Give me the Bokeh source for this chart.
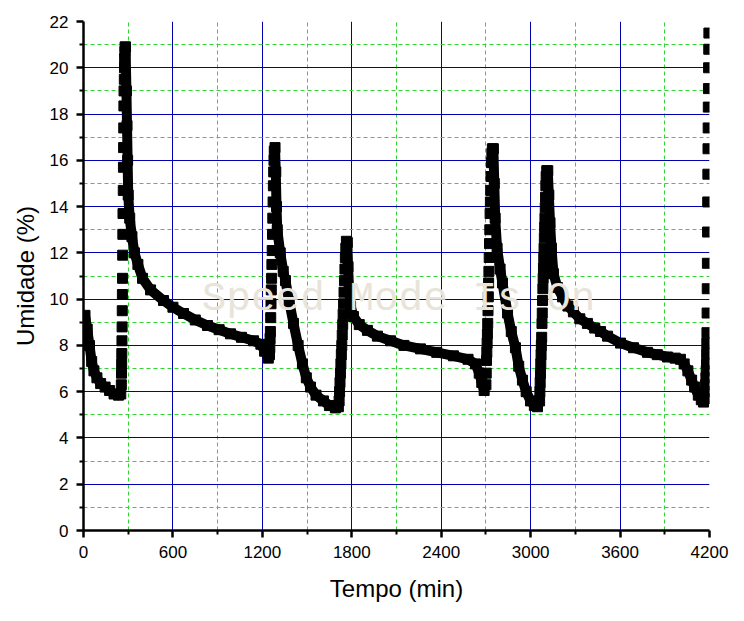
from bokeh.plotting import figure
from bokeh.models import Range1d, FixedTicker
from bokeh.core.properties import value
from bokeh.embed import file_html
from bokeh.resources import INLINE

# ---- axis ticks ----
x_major = [0, 600, 1200, 1800, 2400, 3000, 3600, 4200]
x_minor = [300, 900, 1500, 2100, 2700, 3300, 3900]
y_major = [0, 2, 4, 6, 8, 10, 12, 14, 16, 18, 20, 22]
y_minor = [1, 3, 5, 7, 9, 11, 13, 15, 17, 19, 21]

# ---- drying (falling) segments: time (min), humidity (%) ----
fall0_t = [10, 25, 40, 55, 70, 90, 115, 145, 175, 205, 235, 250]
fall0_h = [9.3, 8.7, 8.0, 7.3, 6.9, 6.6, 6.35, 6.2, 6.05, 5.9, 5.85, 5.9]

fall1_t = [282, 288, 292, 296, 300, 310, 325, 342, 365, 396, 450, 537, 600, 671, 750, 832, 910, 986, 1060, 1141, 1190, 1215, 1240]
fall1_h = [20.9, 19.0, 17.5, 16.0, 14.5, 13.5, 12.7, 12.0, 11.5, 10.9, 10.4, 9.94, 9.65, 9.38, 9.1, 8.86, 8.68, 8.5, 8.35, 8.2, 8.05, 7.75, 7.45]

fall2_t = [1285, 1290, 1295, 1300, 1320, 1340, 1355, 1380, 1409, 1440, 1469, 1495, 1523, 1560, 1610, 1650, 1690, 1710]
fall2_h = [16.55, 15.5, 14.0, 13.0, 12.0, 11.2, 10.8, 9.9, 8.95, 8.0, 7.2, 6.6, 6.2, 5.85, 5.6, 5.4, 5.3, 5.35]

fall3_t = [1770, 1775, 1782, 1792, 1811, 1850, 1905, 1972, 2060, 2150, 2261, 2370, 2482, 2580, 2630, 2655, 2672, 2688]
fall3_h = [12.45, 11.4, 10.4, 9.7, 9.25, 8.9, 8.65, 8.4, 8.2, 8.0, 7.85, 7.7, 7.55, 7.4, 7.2, 6.8, 6.4, 6.05]

fall4_t = [2750, 2756, 2762, 2775, 2795, 2811, 2845, 2870, 2898, 2920, 2945, 2970, 2999, 3025, 3046]
fall4_h = [16.5, 15.0, 13.5, 12.2, 11.3, 10.7, 9.4, 8.6, 7.9, 7.1, 6.5, 6.0, 5.6, 5.4, 5.35]

fall5_t = [3115, 3122, 3130, 3140, 3153, 3180, 3214, 3250, 3287, 3330, 3381, 3430, 3469, 3516, 3603, 3690, 3784, 3850, 3918, 3970, 4005, 4030, 4055, 4080, 4100, 4125, 4145, 4160]
fall5_h = [15.55, 14.5, 13.3, 12.2, 11.1, 10.5, 10.1, 9.7, 9.45, 9.15, 8.95, 8.75, 8.6, 8.4, 8.1, 7.9, 7.7, 7.6, 7.5, 7.45, 7.4, 7.2, 6.9, 6.5, 6.2, 5.85, 5.65, 5.55]

# ---- rewetting (rising) segments ----
rise1_t = [254, 255, 256, 257, 258, 259, 260, 261, 262, 263, 264, 265, 267, 268, 269, 270, 271, 272, 274, 275, 276, 278, 279]
rise1_h = [6.3, 6.8, 7.2, 7.65, 8.2, 8.8, 9.5, 10.2, 10.9, 11.9, 12.8, 13.7, 14.7, 15.7, 16.55, 17.4, 18.35, 19.0, 19.5, 20.0, 20.4, 20.7, 20.9]

rise2_t = [1248, 1250, 1252, 1254, 1256, 1258, 1260, 1262, 1264, 1266, 1268, 1270, 1272, 1274, 1276, 1278, 1280]
rise2_h = [7.6, 7.9, 8.3, 8.6, 9.2, 9.8, 10.4, 10.9, 11.5, 12.1, 12.8, 13.5, 14.2, 14.9, 15.5, 16.0, 16.4]

rise3_t = [1715, 1718, 1721, 1724, 1727, 1730, 1733, 1736, 1739, 1742, 1745, 1748, 1751, 1754, 1757, 1760, 1764]
rise3_h = [5.6, 6.0, 6.4, 6.8, 7.2, 7.6, 8.0, 8.45, 8.9, 9.35, 9.8, 10.3, 10.8, 11.3, 11.8, 12.2, 12.5]

rise4_t = [2700, 2702, 2704, 2706, 2708, 2710, 2712, 2714, 2716, 2718, 2720, 2722, 2724, 2726, 2728, 2730, 2732, 2734, 2737, 2740, 2743]
rise4_h = [6.3, 6.8, 7.35, 7.7, 8.1, 8.5, 8.95, 9.5, 10.1, 10.7, 11.2, 11.8, 12.4, 13.0, 13.7, 14.2, 14.7, 15.3, 15.9, 16.3, 16.5]

rise5_t = [3060, 3062, 3064, 3066, 3068, 3070, 3072, 3074, 3076, 3078, 3080, 3082, 3084, 3086, 3088, 3090, 3092, 3094, 3096, 3098, 3100, 3102, 3104, 3108]
rise5_h = [5.6, 6.0, 6.4, 6.8, 7.2, 7.6, 8.0, 8.35, 8.95, 9.4, 9.94, 10.45, 10.9, 11.35, 11.8, 12.2, 12.65, 13.1, 13.5, 13.95, 14.4, 14.9, 15.3, 15.55]

rise6_t = [4170, 4172, 4174, 4176, 4178, 4180, 4181, 4182, 4183, 4184, 4185, 4186, 4187, 4188, 4189, 4190, 4191, 4192, 4193, 4194, 4195, 4196]
rise6_h = [5.7, 6.0, 6.3, 6.6, 6.9, 7.2, 7.65, 8.1, 8.55, 9.4, 10.45, 11.55, 12.9, 14.2, 15.4, 16.5, 17.4, 18.3, 19.1, 20.0, 20.8, 21.5]

watermark_text = ["Speed Mode Is On"]
watermark_t = [2114]
watermark_h = [10.0]

fall_t = [fall0_t, fall1_t, fall2_t, fall3_t, fall4_t, fall5_t]
fall_h = [fall0_h, fall1_h, fall2_h, fall3_h, fall4_h, fall5_h]
rise_t = [rise1_t, rise2_t, rise3_t, rise4_t, rise5_t, rise6_t]
rise_h = [rise1_h, rise2_h, rise3_h, rise4_h, rise5_h, rise6_h]

all_t = [v for seg in fall_t + rise_t for v in seg]
all_h = [v for seg in fall_h + rise_h for v in seg]

FONT = "Liberation Sans"

p = figure(output_backend="svg", toolbar_location=None,
           x_range=Range1d(0, 4200), y_range=Range1d(0, 22),
           frame_width=626, frame_height=509,
           min_border_left=83, min_border_right=27,
           min_border_top=21, min_border_bottom=83)
p.outline_line_color = None
p.background_fill_color = "white"
p.border_fill_color = "white"

# axes
p.xaxis.ticker = FixedTicker(ticks=x_major, minor_ticks=x_minor)
p.yaxis.ticker = FixedTicker(ticks=y_major, minor_ticks=y_minor)
p.xaxis.axis_label = "Tempo (min)"
p.yaxis.axis_label = "Umidade (%)"
for ax in (p.xaxis, p.yaxis):
    ax.axis_line_width = 2.5
    ax.axis_line_color = "black"
    ax.major_tick_line_width = 2.5
    ax.major_tick_line_color = "black"
    ax.minor_tick_line_width = 2
    ax.minor_tick_line_color = "black"
    ax.major_tick_in = 0
    ax.major_tick_out = 7
    ax.minor_tick_in = 0
    ax.minor_tick_out = 4
    ax.major_label_text_font = FONT
    ax.major_label_text_font_size = "17px"
    ax.major_label_text_color = "black"
    ax.axis_label_text_font = FONT
    ax.axis_label_text_font_size = "24px"
    ax.axis_label_text_font_style = "normal"
    ax.axis_label_text_color = "black"
p.xaxis.major_label_standoff = 8
p.yaxis.major_label_standoff = 8
p.xaxis.axis_label_standoff = 14
p.yaxis.axis_label_standoff = 8

# grids (below the data)
p.xgrid.ticker = FixedTicker(ticks=x_major[1:-1], minor_ticks=x_minor)
p.ygrid.ticker = FixedTicker(ticks=y_major[1:-1], minor_ticks=y_minor)
for g in (p.xgrid, p.ygrid):
    g.level = "underlay"
    g.grid_line_color = "#0000b0"
    g.grid_line_width = 1
    g.grid_line_alpha = 1
    g.minor_grid_line_color = "#33d433"
    g.minor_grid_line_width = 1
    g.minor_grid_line_dash = "4 3"
    g.minor_grid_line_alpha = 1

# data
p.multi_line(xs=fall_t, ys=fall_h, line_color="black", line_width=10,
             line_join="round", level="glyph")
p.scatter(all_t, all_h, marker="square", size=10, fill_color="black",
          line_color="black", level="glyph")

# watermark (drawn over the data, very light)
p.text(x=watermark_t, y=watermark_h, text=watermark_text,
       text_align="center", text_baseline="middle",
       text_font=value("Liberation Mono"), text_font_size="41px",
       text_color="#e8e4da", level="overlay")

open("out.html", "w").write(file_html(p, INLINE))
